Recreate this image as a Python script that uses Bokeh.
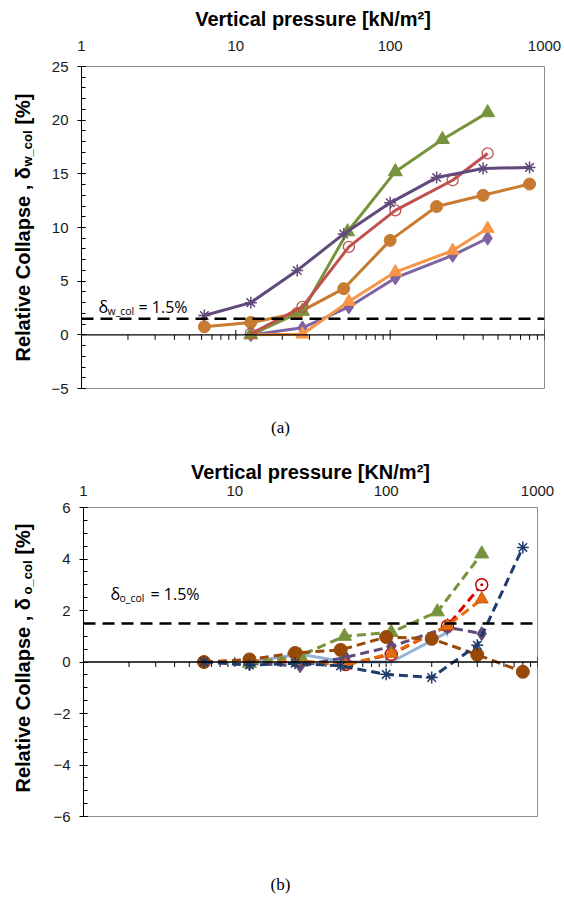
import math
from bokeh.plotting import figure
from bokeh.layouts import column, row
from bokeh.models import Range1d, Span, Label, FixedTicker, SingleIntervalTicker, BasicTickFormatter
from bokeh.core.properties import value
from bokeh.embed import file_html
from bokeh.resources import INLINE

# ---------------- data: chart (a) ----------------
x_tick_values = [1, 10, 100, 1000]
x_a = [6.25, 12.5, 25, 50, 100, 200, 400, 800]          # doubling loading steps
x_b = [12.5, 27, 54, 108, 254, 428]
x_g = [12.5, 27, 53, 108, 218, 428]

a_star_purple = [1.8, 3.0, 6.0, 9.4, 12.3, 14.65, 15.5, 15.6]
a_circle_orange = [0.75, 1.15, 2.0, 4.3, 8.8, 11.95, 13.0, 14.05]
a_tri_green = [0.0, 2.2, 9.6, 15.2, 18.2, 20.7]
a_ocircle_red = [0.1, 2.6, 8.2, 11.6, 14.4, 16.9]
a_diamond_lav = [0.0, 0.65, 2.6, 5.3, 7.4, 9.0]
a_tri_orange = [0.0, 0.05, 3.1, 5.85, 7.85, 9.9]
a_threshold = 1.5

# ---------------- data: chart (b) ----------------
x_blue = [12.5, 27, 54, 108, 254]
b_star_navy = [0.0, -0.12, -0.05, -0.15, -0.48, -0.6, 0.65, 4.45]
b_circle_brown = [0.0, 0.1, 0.35, 0.47, 0.97, 0.9, 0.28, -0.38]
b_tri_green = [-0.05, 0.25, 1.0, 1.15, 1.95, 4.2]
b_cdot_red = [0.0, 0.0, -0.1, 0.3, 1.4, 3.0]
b_tri_orange = [0.05, 0.05, -0.12, 0.33, 1.4, 2.44]
b_diamond_purple = [-0.05, -0.15, 0.18, 0.6, 1.35, 1.1]
b_line_blue = [0.0, 0.3, 0.0, 0.0, 1.15]
b_threshold = 1.5

FONT = "Liberation Sans"
LAB_W = 48
MAIN_W = 516


def base_fig(height, yr, border, ytick_interval, nminor, xtitle, tick_standoff, title_standoff):
    left, right, top, bottom = border
    p = figure(width=MAIN_W, height=height, x_axis_type="log", x_axis_location="above",
               x_range=Range1d(1, 1000), y_range=Range1d(*yr),
               output_backend="svg", toolbar_location=None,
               min_border_left=left, min_border_right=right,
               min_border_top=top, min_border_bottom=bottom)
    p.xgrid.visible = False
    p.ygrid.visible = False
    p.outline_line_color = "#8c8c8c"
    p.outline_line_width = 1
    p.background_fill_color = "white"
    p.border_fill_color = "white"
    xa = p.xaxis[0]
    xa.ticker = FixedTicker(ticks=x_tick_values)
    xa.formatter = BasicTickFormatter()
    xa.axis_line_color = None
    xa.major_tick_line_color = None
    xa.minor_tick_line_color = None
    xa.major_tick_out = 0
    xa.major_tick_in = 0
    xa.major_label_standoff = tick_standoff
    xa.major_label_text_font = FONT
    xa.major_label_text_font_size = "15px"
    xa.major_label_text_color = "#1a1a1a"
    xa.axis_label = xtitle
    xa.axis_label_text_font = FONT
    xa.axis_label_text_font_size = "20px"
    xa.axis_label_text_font_style = "bold"
    xa.axis_label_text_color = "black"
    xa.axis_label_standoff = title_standoff
    ya = p.yaxis[0]
    ya.ticker = SingleIntervalTicker(interval=ytick_interval, num_minor_ticks=nminor)
    ya.axis_line_color = "black"
    ya.axis_line_width = 1
    ya.major_tick_line_color = "black"
    ya.minor_tick_line_color = "black"
    ya.major_tick_in = 4
    ya.major_tick_out = 4
    ya.minor_tick_in = 4
    ya.minor_tick_out = 0
    ya.major_label_standoff = 9
    ya.major_label_text_font = FONT
    ya.major_label_text_font_size = "15px"
    ya.major_label_text_color = "#1a1a1a"
    return p


def text_fig(width, height, yr=None, top=0, bottom=0):
    yrange = Range1d(*yr) if yr is not None else Range1d(0, height)
    f = figure(width=width, height=height, x_range=Range1d(0, width), y_range=yrange,
               x_axis_type=None, y_axis_type=None, output_backend="svg", toolbar_location=None,
               title=None, min_border=0, min_border_left=0, min_border_right=0,
               min_border_top=top, min_border_bottom=bottom)
    f.outline_line_color = None
    f.background_fill_color = "white"
    f.border_fill_color = "white"
    return f


def zero_axis(p, px_per_unit):
    p.add_layout(Span(location=0, dimension="width", line_color="black", line_width=1.3))
    xs_minor, xs_major = [], []
    for d in [1, 10, 100]:
        xs_major.append(d)
        for k in range(2, 10):
            xs_minor.append(k * d)
    xs_major.append(1000)
    p.segment(x0=xs_minor, y0=[0] * len(xs_minor), x1=xs_minor,
              y1=[-5 / px_per_unit] * len(xs_minor), line_color="black", line_width=1)
    p.segment(x0=xs_major, y0=[5 / px_per_unit] * len(xs_major), x1=xs_major,
              y1=[-5 / px_per_unit] * len(xs_major), line_color="black", line_width=1)


def threshold(p, y):
    p.add_layout(Span(location=y, dimension="width", line_color="black",
                      line_width=2.5, line_dash="12 7"))


def ylabel_fig(height, yr, top, bottom, bottom_px, top_px, sub):
    """Vertical axis title strip whose frame is aligned with the chart frame.
    bottom_px / top_px are pixel offsets (from the frame top) of the label ends."""
    f = text_fig(LAB_W, height, yr, top, bottom)
    frame_h = height - top - bottom
    upp = (yr[1] - yr[0]) / frame_h

    def at(px):
        return yr[1] - px * upp

    common = dict(angle=math.pi / 2, text_font=value(FONT), text_font_style="bold",
                  text_color="black", text_baseline="middle")
    f.text(x=[22], y=[at(bottom_px)], text=["Relative Collapse , δ"], text_font_size="20px",
           text_align="left", **common)
    f.text(x=[22], y=[at(top_px)], text=["[%]"], text_font_size="20px",
           text_align="right", **common)
    f.text(x=[27], y=[at(top_px + 37)], text=[sub], text_font_size="13px",
           text_align="right", **common)
    return f


def caption_fig(height, y, txt):
    f = text_fig(LAB_W + MAIN_W, height)
    f.text(x=[280], y=[y], text=[txt], text_font=value("Liberation Serif"),
           text_font_size="17px", text_color="black", text_align="center",
           text_baseline="middle")
    return f


def delta_note(p, y, xoff, sub):
    f = "Open Sans"
    p.add_layout(Label(x=1, y=y, x_offset=xoff, y_offset=0, text="δ", text_font=f,
                       text_font_size="16px", text_color="black",
                       text_align="left", text_baseline="alphabetic"))
    p.add_layout(Label(x=1, y=y, x_offset=xoff + 9, y_offset=-4, text=sub, text_font=f,
                       text_font_size="10.5px", text_color="black",
                       text_align="left", text_baseline="alphabetic"))
    p.add_layout(Label(x=1, y=y, x_offset=xoff + 40, y_offset=0, text="= 1.5%", text_font=f,
                       text_font_size="16px", text_color="black",
                       text_align="left", text_baseline="alphabetic"))


# ---------------- figure (a) ----------------
H1 = 405
YR1 = (-5, 25)
B1 = (33, 20, 66, 17)
p1 = base_fig(H1, YR1, B1, 5, 5, "Vertical pressure [kN/m²]", 16, 8)
zero_axis(p1, 10.8)
threshold(p1, a_threshold)

LW = 3
c_lav, c_or, c_grn, c_red, c_pur, c_org = "#8064A2", "#F79646", "#77933C", "#C0504D", "#604A7B", "#C77B30"
p1.line(x_b, a_diamond_lav, line_color=c_lav, line_width=LW)
p1.scatter(x_b, a_diamond_lav, marker="diamond", size=14, fill_color=c_lav, line_color=c_lav)
p1.line(x_b, a_tri_orange, line_color=c_or, line_width=LW)
p1.scatter(x_b, a_tri_orange, marker="triangle", size=13, fill_color=c_or, line_color=c_or)
p1.line(x_a, a_circle_orange, line_color=c_org, line_width=LW)
p1.scatter(x_a, a_circle_orange, marker="circle", size=12, fill_color=c_org, line_color=c_org)
p1.line(x_g, a_tri_green, line_color=c_grn, line_width=LW)
p1.scatter(x_g, a_tri_green, marker="triangle", size=14, fill_color=c_grn, line_color=c_grn)
p1.line(x_b, a_ocircle_red, line_color=c_red, line_width=LW)
p1.scatter(x_b, a_ocircle_red, marker="circle", size=11, fill_color=None, line_color=c_red, line_width=1.3)
p1.line(x_a, a_star_purple, line_color=c_pur, line_width=LW)
p1.scatter(x_a, a_star_purple, marker="asterisk", size=12, line_color=c_pur, line_width=1.5)

delta_note(p1, 2.6, 17, "w_col")
lab1 = ylabel_fig(H1, YR1, B1[2], B1[3], 361 - 66, 93 - 66, "w_col")
cap1 = caption_fig(50, 28, "(a)")

# ---------------- figure (b) ----------------
H2 = 375
YR2 = (-6, 6)
B2 = (35, 27, 52, 14)
p2 = base_fig(H2, YR2, B2, 2, 4, "Vertical pressure [KN/m²]", 12, 0)
zero_axis(p2, 25.8)
threshold(p2, b_threshold)

DASH = "9 5"
c_navy, c_brown, c_g2, c_r2, c_o2, c_p2, c_blue = "#1F3D6B", "#984807", "#77933C", "#E00000", "#E46C0A", "#604A7B", "#95B3D7"
p2.line(x_blue, b_line_blue, line_color=c_blue, line_width=LW)
p2.scatter(x_blue, b_line_blue, marker="cross", size=8, line_color=c_blue, line_width=1.5)
p2.line(x_b, b_cdot_red, line_color=c_r2, line_width=LW, line_dash=DASH)
p2.scatter(x_b, b_cdot_red, marker="circle_dot", size=12, fill_color="white", line_color="#C00000", line_width=1.5)
p2.line(x_b, b_diamond_purple, line_color=c_p2, line_width=LW, line_dash=DASH)
p2.scatter(x_b, b_diamond_purple, marker="diamond", size=14, fill_color=c_p2, line_color=c_p2)
p2.line(x_b, b_tri_orange, line_color=c_o2, line_width=LW, line_dash=DASH)
p2.scatter(x_b, b_tri_orange, marker="triangle", size=13, fill_color=c_o2, line_color="#C55A11")
p2.line(x_g, b_tri_green, line_color=c_g2, line_width=LW, line_dash=DASH)
p2.scatter(x_g, b_tri_green, marker="triangle", size=14, fill_color=c_g2, line_color=c_g2)
p2.line(x_a, b_circle_brown, line_color=c_brown, line_width=LW, line_dash=DASH)
p2.scatter(x_a, b_circle_brown, marker="circle", size=13, fill_color=c_brown, line_color=c_brown)
p2.line(x_a, b_star_navy, line_color=c_navy, line_width=LW, line_dash=DASH)
p2.scatter(x_a, b_star_navy, marker="asterisk", size=12, line_color=c_navy, line_width=1.5)

delta_note(p2, 2.63, 27, "o_col")
lab2 = ylabel_fig(H2, YR2, B2[2], B2[3], 792 - 507, 523 - 507, "o_col")
cap2 = caption_fig(75, 75 - 54, "(b)")

layout = column(row(lab1, p1, spacing=0), cap1, row(lab2, p2, spacing=0), cap2, spacing=0)
open("out.html", "w").write(file_html(layout, INLINE))
